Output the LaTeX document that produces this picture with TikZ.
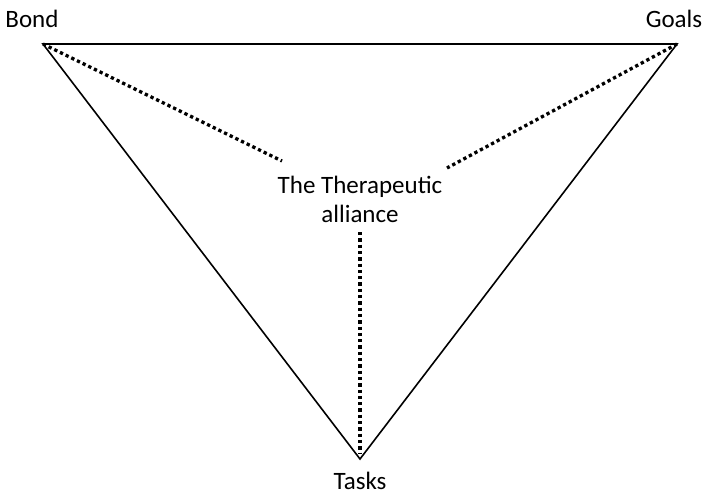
\documentclass[tikz,border=0pt]{standalone}
\usepackage{fontspec}
\setmainfont{Carlito}
\begin{document}
\begin{tikzpicture}[x=1pt,y=-1pt,
  edge/.style={line width=1.6pt},
  dots/.style={line width=3.3pt, dash pattern=on 3.3pt off 3pt},
  lbl/.style={font=\fontsize{25}{29}\selectfont, inner sep=0pt}]
\useasboundingbox (0,0) rectangle (704,496);
\coordinate (B) at (43,44);
\coordinate (G) at (677,44);
\coordinate (T) at (360,459);
\coordinate (le) at (282,161);
\coordinate (re) at (447,168);
\coordinate (ve) at (360,232);
\coordinate (vb) at (360,454);
\draw[edge] (B) -- (G) -- (T) -- cycle;
\draw[dots] (B) -- (le);
\draw[dots] (G) -- (re);
\draw[dots] (ve) -- (vb);
\node[lbl] (bond) at (32,19) {Bond};
\node[lbl] (goals) at (674,19) {Goals};
\node[lbl] (tasks) at (360,481) {Tasks};
\node[lbl, align=center] (ta) at (360,199) {The Therapeutic\\alliance};
\end{tikzpicture}
\end{document}
